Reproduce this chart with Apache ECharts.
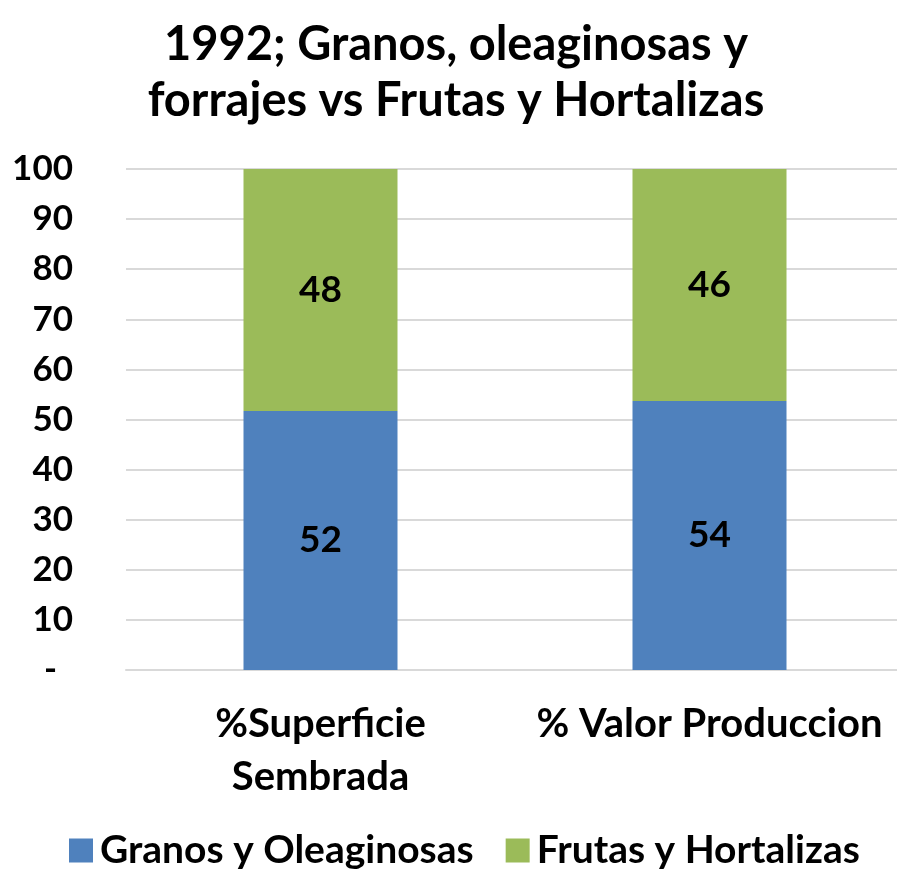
<!DOCTYPE html>
<html>
<head>
<meta charset="utf-8">
<script src="https://cdn.jsdelivr.net/npm/echarts@6/dist/echarts.min.js"></script>
<style>
  html, body { margin: 0; padding: 0; background: #fff; overflow: hidden; }
  #chart { width: 912px; height: 871px; }
</style>
</head>
<body>
<div id="chart"></div>
<script>
// datos del grafico
var categorias = ['%Superficie\nSembrada', '% Valor Produccion'];
var granos = [51.7, 53.7];
var frutas = [48.3, 46.3];
var nombres = ['Granos y Oleaginosas', 'Frutas y Hortalizas'];
var colores = ['#4f81bd', '#9bbb59'];

var fuente = 'Lato';

var chart = echarts.init(document.getElementById('chart'), null, { renderer: 'canvas' });

// etiqueta de valor dentro de la barra
function etiqueta() {
  return {
    show: true,
    position: 'inside',
    fontFamily: fuente,
    fontSize: 37,
    fontWeight: 'bold',
    color: '#000',
    formatter: function (p) { return Math.round(p.value); }
  };
}

var option = {
  color: colores,
  textStyle: { fontFamily: fuente },
  title: {
    text: '1992; Granos, oleaginosas y\nforrajes vs Frutas y Hortalizas',
    left: 'center',
    top: 12,
    textStyle: {
      fontFamily: fuente,
      fontSize: 47,
      fontWeight: 'bold',
      color: '#000',
      lineHeight: 56
    }
  },
  legend: {
    data: nombres,
    left: 64,
    top: 826,
    icon: 'rect',
    itemWidth: 24,
    itemHeight: 24,
    itemGap: 32,
    textStyle: {
      fontFamily: fuente,
      fontSize: 39,
      fontWeight: 'bold',
      color: '#000',
      padding: [0, 0, 0, 2]
    }
  },
  grid: {
    left: 126,
    top: 169,
    width: 778,
    height: 501,
    containLabel: false
  },
  xAxis: {
    type: 'category',
    data: categorias,
    axisLine: { lineStyle: { color: '#d9d9d9', width: 2 } },
    axisTick: { show: false },
    axisLabel: {
      interval: 0,
      hideOverlap: false,
      margin: 28,
      fontFamily: fuente,
      fontSize: 40,
      fontWeight: 'bold',
      color: '#000',
      lineHeight: 53
    }
  },
  yAxis: {
    type: 'value',
    min: 0,
    max: 100,
    interval: 10,
    axisLine: { show: false },
    axisTick: { show: false },
    splitLine: { lineStyle: { color: '#d9d9d9', width: 2 } },
    axisLabel: {
      margin: 53,
      fontFamily: fuente,
      fontSize: 35,
      fontWeight: 'bold',
      color: '#000',
      formatter: function (v) {
        return v === 0 ? '{dash|-}' : String(v);
      },
      rich: {
        dash: {
          fontFamily: fuente,
          fontSize: 35,
          fontWeight: 'bold',
          color: '#000',
          padding: [0, 16, 0, 0]
        }
      }
    }
  },
  series: [
    {
      name: nombres[0],
      type: 'bar',
      stack: 'total',
      barWidth: 154,
      data: granos,
      label: etiqueta()
    },
    {
      name: nombres[1],
      type: 'bar',
      stack: 'total',
      barWidth: 154,
      data: frutas,
      label: etiqueta()
    }
  ]
};

chart.setOption(option);
</script>
</body>
</html>
